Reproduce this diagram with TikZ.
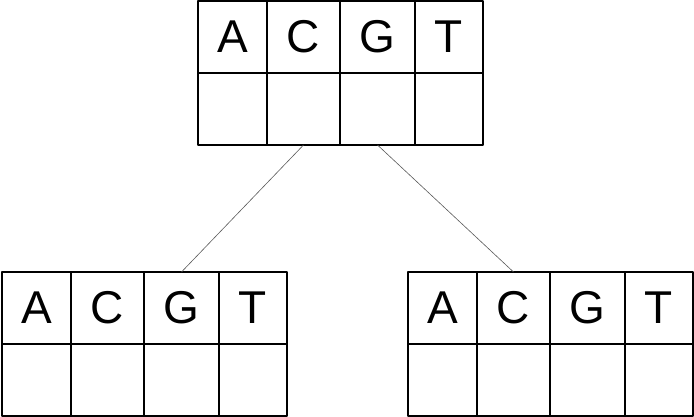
\documentclass[tikz,border=0pt]{standalone}
\usepackage{fontspec}
\setmainfont{Liberation Sans}
\usepackage{tikz}

\tikzset{
    cell/.style={draw=black, line width=1.2pt, minimum height=72pt, inner sep=0pt, outer sep=0pt,
        font=\fontsize{46}{50}\selectfont},
    link/.style={line width=0.6pt, draw=black!65}
}

\begin{document}
\begin{tikzpicture}[line cap=round,line join=round,x=1pt,y=1pt]
                \useasboundingbox (0,0) rectangle (694,417);
                % top table
                \foreach \n/\x/\w in {A/0/69, C/69/73, G/142/75, T/217/68} {
                    \node[cell, minimum width=\w pt] (top\n) at ({198+\x+\w/2},380) {\n};
                    \node[cell, minimum width=\w pt] (top\n-low) at ({198+\x+\w/2},308) {};
                }
                % left table
                \foreach \n/\x/\w in {A/0/69, C/69/73, G/142/75, T/217/68} {
                    \node[cell, minimum width=\w pt] (left\n) at ({2+\x+\w/2},109) {\n};
                    \node[cell, minimum width=\w pt] (left\n-low) at ({2+\x+\w/2},37) {};
                }
                % right table
                \foreach \n/\x/\w in {A/0/69, C/69/73, G/142/75, T/217/68} {
                    \node[cell, minimum width=\w pt] (right\n) at ({408+\x+\w/2},109) {\n};
                    \node[cell, minimum width=\w pt] (right\n-low) at ({408+\x+\w/2},37) {};
                }
                \draw [link] (topC-low.south) -- (leftG.north);
                \draw [link] (topG-low.south) -- (rightC.north);
\end{tikzpicture}
\end{document}
